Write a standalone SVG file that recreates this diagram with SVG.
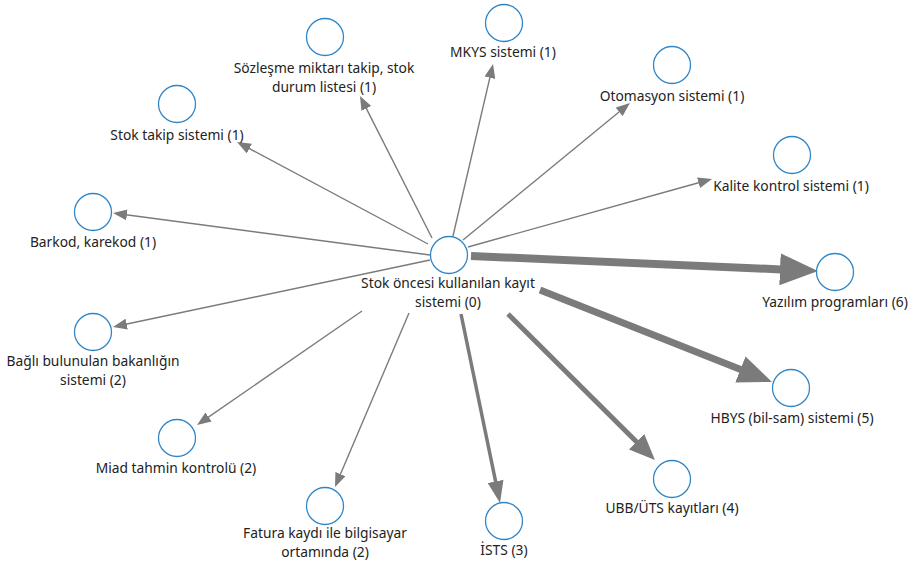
<svg xmlns="http://www.w3.org/2000/svg" width="910" height="562" viewBox="0 0 910 562">
<style>
.node circle{fill:#fff;stroke:#2f86c6;stroke-width:1.3}
.node text{font-family:"Noto Sans","Open Sans","DejaVu Sans",sans-serif;font-size:13.8px;fill:#222;text-anchor:middle}
.edges line{stroke:#7b7b7b;fill:none}
.t1{stroke-width:1.4}
</style>
<defs>
<marker id="h1" markerUnits="userSpaceOnUse" viewBox="0 0 14 11" refX="1" refY="5.5" markerWidth="14" markerHeight="11" orient="auto"><path d="M0,0 L14,5.5 L0,11 z" fill="#7b7b7b"/></marker>
<marker id="h3" markerUnits="userSpaceOnUse" viewBox="0 0 22 16" refX="1" refY="8" markerWidth="22" markerHeight="16" orient="auto"><path d="M0,0 L22,8 L0,16 z" fill="#7b7b7b"/></marker>
<marker id="h4" markerUnits="userSpaceOnUse" viewBox="0 0 26 22" refX="1" refY="11" markerWidth="26" markerHeight="22" orient="auto"><path d="M0,0 L26,11 L0,22 z" fill="#7b7b7b"/></marker>
<marker id="h5" markerUnits="userSpaceOnUse" viewBox="0 0 34 28" refX="1" refY="14" markerWidth="34" markerHeight="28" orient="auto"><path d="M0,0 L34,14 L0,28 z" fill="#7b7b7b"/></marker>
<marker id="h6" markerUnits="userSpaceOnUse" viewBox="0 0 38 32" refX="1" refY="16" markerWidth="38" markerHeight="32" orient="auto"><path d="M0,0 L38,16 L0,32 z" fill="#7b7b7b"/></marker>
</defs>
<g class="edges" id="connectors">
<line class="t1" x1="432" y1="238" x2="365.9" y2="107.6" marker-end="url(#h1)"/>
<line class="t1" x1="453" y1="236" x2="490.1" y2="76.7" marker-end="url(#h1)"/>
<line class="t1" x1="463" y1="240" x2="619.9" y2="111.2" marker-end="url(#h1)"/>
<line class="t1" x1="468" y1="247" x2="699.5" y2="182.5" marker-end="url(#h1)"/>
<line class="t1" x1="428" y1="244" x2="248.5" y2="148.1" marker-end="url(#h1)"/>
<line class="t1" x1="430" y1="255" x2="125.9" y2="214.7" marker-end="url(#h1)"/>
<line class="t1" x1="430" y1="260" x2="125.7" y2="324.3" marker-end="url(#h1)"/>
<line class="t1" x1="362" y1="311" x2="207.7" y2="417.6" marker-end="url(#h1)"/>
<line class="t1" x1="409" y1="313" x2="340.1" y2="475" marker-end="url(#h1)"/>
<line x1="461" y1="314" x2="495.8" y2="482.4" stroke-width="3.5" marker-end="url(#h3)"/>
<line x1="508" y1="314" x2="637.2" y2="442.4" stroke-width="5" marker-end="url(#h4)"/>
<line x1="540" y1="290" x2="741.3" y2="369.8" stroke-width="7" marker-end="url(#h5)"/>
<line x1="471" y1="256" x2="781" y2="269.4" stroke-width="8" marker-end="url(#h6)"/>
</g>
<g class="node" id="n0"><circle cx="449" cy="255" r="18.5"/><text x="448" y="288">Stok öncesi kullanılan kayıt</text><text x="448" y="307">sistemi (0)</text></g>
<g class="node" id="n1"><circle cx="325" cy="37" r="18.5"/><text x="324" y="73">Sözleşme miktarı takip, stok</text><text x="324" y="92">durum listesi (1)</text></g>
<g class="node" id="n2"><circle cx="504" cy="23" r="18.5"/><text x="503" y="57">MKYS sistemi (1)</text></g>
<g class="node" id="n3"><circle cx="672" cy="65" r="18.5"/><text x="672" y="101">Otomasyon sistemi (1)</text></g>
<g class="node" id="n4"><circle cx="792" cy="155" r="18.5"/><text x="791" y="191">Kalite kontrol sistemi (1)</text></g>
<g class="node" id="n5"><circle cx="835" cy="272" r="18.5"/><text x="835" y="307">Yazılım programları (6)</text></g>
<g class="node" id="n6"><circle cx="791" cy="388" r="18.5"/><text x="792" y="423">HBYS (bil-sam) sistemi (5)</text></g>
<g class="node" id="n7"><circle cx="672" cy="479" r="18.5"/><text x="672" y="513">UBB/ÜTS kayıtları (4)</text></g>
<g class="node" id="n8"><circle cx="504" cy="521" r="18.5"/><text x="504" y="555">İSTS (3)</text></g>
<g class="node" id="n9"><circle cx="325" cy="506" r="18.5"/><text x="325" y="538">Fatura kaydı ile bilgisayar</text><text x="325" y="557">ortamında (2)</text></g>
<g class="node" id="n10"><circle cx="177" cy="438" r="18.5"/><text x="176" y="473">Miad tahmin kontrolü (2)</text></g>
<g class="node" id="n11"><circle cx="93" cy="212" r="18.5"/><text x="93" y="247">Barkod, karekod (1)</text></g>
<g class="node" id="n12"><circle cx="93" cy="332" r="18.5"/><text x="93" y="366">Bağlı bulunulan bakanlığın</text><text x="93" y="385">sistemi (2)</text></g>
<g class="node" id="n13"><circle cx="177" cy="104" r="18.5"/><text x="177" y="140">Stok takip sistemi (1)</text></g>
</svg>
